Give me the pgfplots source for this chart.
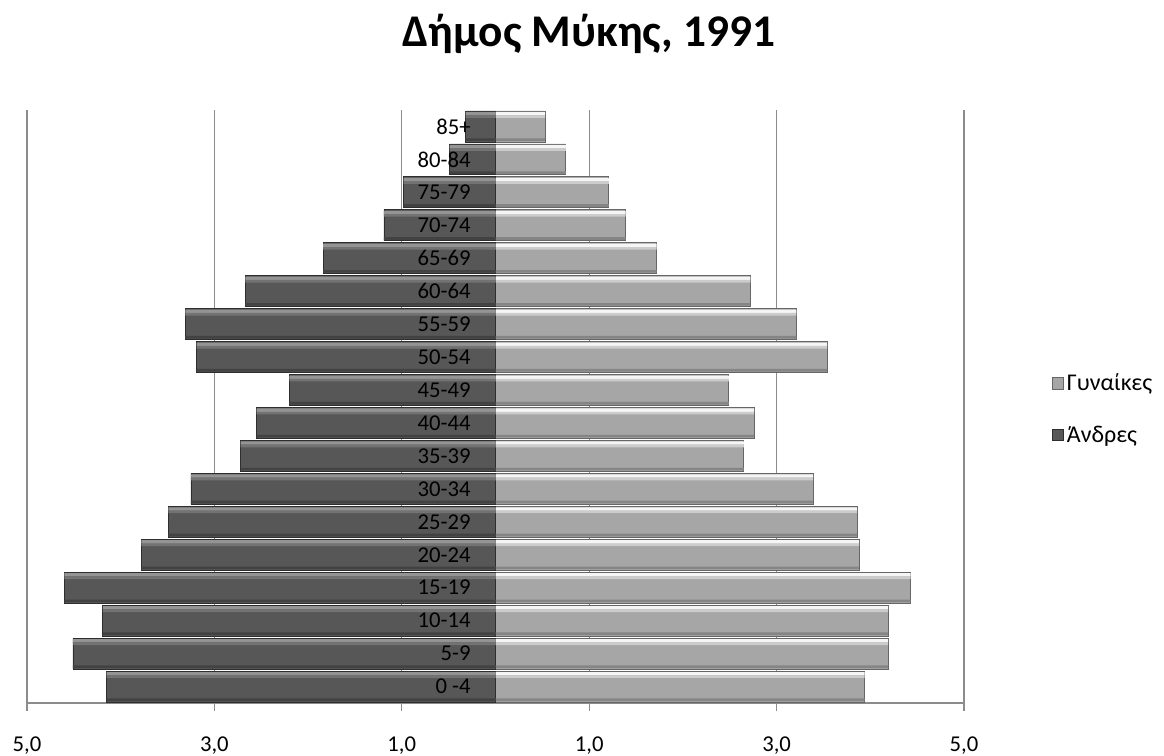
\documentclass[border=0pt]{standalone}
\usepackage{pgfplots}
\usepackage{pgfplotstable}
\pgfplotsset{compat=1.18}
\usepackage{fontspec}
\setmainfont{Carlito}

% age group, men (left, negative), women (right)
\pgfplotstableread{
age men women
{0 -4} -4.15 3.94
5-9 -4.51 4.19
10-14 -4.19 4.19
15-19 -4.60 4.43
20-24 -3.78 3.88
25-29 -3.49 3.86
30-34 -3.25 3.39
35-39 -2.72 2.65
40-44 -2.55 2.76
45-49 -2.20 2.49
50-54 -3.19 3.54
55-59 -3.31 3.21
60-64 -2.67 2.72
65-69 -1.84 1.72
70-74 -1.19 1.39
75-79 -0.98 1.21
80-84 -0.49 0.75
85+ -0.32 0.53
}\pyramid

\newcommand{\lblfont}{\fontsize{17}{20}\selectfont}
% thin strips on top of each bar give the bevelled look
\pgfplotsset{strip/.style n args={3}{xbar, forget plot, draw=none,
  bar width=#1, bar shift=#2, fill=#3}}

\begin{document}
\begin{tikzpicture}
\path[use as bounding box] (-20.25pt,-39.75pt) rectangle (852.75pt,527.25pt);
\begin{axis}[
  scale only axis,
  width=702.75pt, height=444.75pt,
  xmin=-5, xmax=5, ymin=-0.5, ymax=17.5,
  axis x line=bottom, axis y line=left,
  x axis line style={-, draw=black!45, line width=1pt},
  y axis line style={draw=none},
  xtick={-5,-3,-1,1,3,5},
  xticklabels={{5,0},{3,0},{1,0},{1,0},{3,0},{5,0}},
  xtick align=outside,
  major tick length=6pt,
  xtick style={draw=black!45, line width=1pt},
  xticklabel style={font=\lblfont, inner sep=0pt, anchor=north, yshift=-19pt},
  ytick=\empty,
  xmajorgrids,
  grid style={draw=black!45, line width=1pt},
  title={Δήμος Μύκης, 1991},
  title style={font=\bfseries\fontsize{34}{40}\selectfont, at={(0.5,1)},
               anchor=base, yshift=41.5pt, xshift=70pt},
  legend style={at={(1.089,0.496)}, anchor=west, draw=none, fill=none,
                font=\fontsize{18}{21}\selectfont, row sep=21pt},
  legend cell align=left,
  legend image code/.code={\draw[#1] (0pt,-4.4pt) rectangle (8.8pt,4.4pt);},
  clip=false,
]
  % women
  \addplot[xbar, bar width=0.94, bar shift=0pt, draw=black!60, line width=0.6pt,
           fill=black!35]
    table[x=women, y expr=\coordindex] \pyramid;
  \addlegendentry{Γυναίκες}
  % men
  \addplot[xbar, bar width=0.94, bar shift=0pt, draw=black!82, line width=0.6pt,
           fill=black!66]
    table[x=men, y expr=\coordindex] \pyramid;
  \addlegendentry{Άνδρες}
  % bevel highlights and shadows
  \addplot[strip={0.10}{0.39}{black!4}]  table[x=women, y expr=\coordindex] \pyramid;
  \addplot[strip={0.08}{0.30}{black!20}] table[x=women, y expr=\coordindex] \pyramid;
  \addplot[strip={0.08}{-0.40}{black!48}] table[x=women, y expr=\coordindex] \pyramid;
  \addplot[strip={0.10}{0.39}{black!42}] table[x=men, y expr=\coordindex] \pyramid;
  \addplot[strip={0.08}{0.30}{black!55}] table[x=men, y expr=\coordindex] \pyramid;
  \addplot[strip={0.08}{-0.40}{black!74}] table[x=men, y expr=\coordindex] \pyramid;
  % age group labels next to the centre line
  \addplot[forget plot, draw=none, mark=none, nodes near coords,
           point meta=explicit symbolic,
           nodes near coords style={anchor=east, inner sep=0pt, xshift=-18.5pt,
                                    font=\lblfont, text=black}]
    table[x expr=0, y expr=\coordindex, meta=age] \pyramid;
\end{axis}
\end{tikzpicture}
\end{document}
